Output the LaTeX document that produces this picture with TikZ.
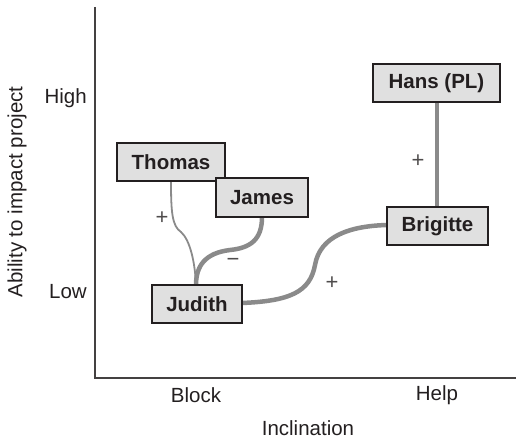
\documentclass[tikz,border=0pt]{standalone}
\usepackage{fontspec}
\setmainfont{Liberation Sans}
\definecolor{ink}{HTML}{231F20}
\definecolor{boxfill}{HTML}{E0E0E0}
\definecolor{linkgray}{HTML}{8A8A8A}
\begin{document}
\begin{tikzpicture}[x=1pt,y=-1pt,
  person/.style={draw=ink, line width=1.2pt, fill=boxfill, text=ink,
    font=\fontsize{20.5}{23}\selectfont\bfseries, inner sep=0pt, align=center},
  lbl/.style={text=ink, font=\fontsize{20.5}{23}\selectfont, inner sep=0pt},
  sign/.style={text=ink!80, font=\fontsize{22}{24}\selectfont, inner sep=0pt},
  thicklink/.style={draw=linkgray, line width=4.5pt},
  thinlink/.style={draw=linkgray, line width=1.8pt},
  axis/.style={draw=ink!85, line width=1.2pt}
]
\useasboundingbox (0,0) rectangle (516,441);
% axes
\draw[axis] (95,7) -- (95,378) -- (516,378);
% axis labels
\node[lbl, anchor=east] (high) at (87,98) {High};
\node[lbl, anchor=east] (low) at (87,292) {Low};
\node[lbl, rotate=90] (ytitle) at (17,192) {Ability to impact project};
\node[lbl] (block) at (196,395) {Block};
\node[lbl] (help) at (437,395) {Help};
\node[lbl] (xtitle) at (308,428) {Inclination};
% connectors (drawn first, under boxes)
\coordinate (thomasb) at (171,181);
\coordinate (jamesb) at (262,217);
\coordinate (juditht) at (196,285);
\coordinate (judithe) at (242,303);
\coordinate (brigittew) at (387,225);
\coordinate (hansb) at (437,102);
\coordinate (brigitten) at (437,207);
\draw[thinlink] (thomasb) .. controls (171,212) and (172,226) .. (181,232)
  .. controls (190,240) and (195,262) .. (juditht);
\draw[thicklink] (jamesb) .. controls (262,240) and (250,248) .. (230,250)
  .. controls (205,253) and (196,266) .. (juditht);
\draw[thicklink] (judithe) .. controls (290,301) and (310,292) .. (315,265)
  .. controls (320,236) and (350,226) .. (brigittew);
\draw[thicklink] (hansb) -- (brigitten);
% boxes
\node[person, minimum width=108pt, minimum height=38pt] (thomas) at (171,162) {Thomas};
\node[person, minimum width=92pt, minimum height=39pt] (james) at (262,197.5) {James};
\node[person, minimum width=90pt, minimum height=38pt] (judith) at (197,304) {Judith};
\node[person, minimum width=127pt, minimum height=38pt] (hans) at (436.5,83) {Hans (PL)};
\node[person, minimum width=101pt, minimum height=38pt] (brigitte) at (437.5,226) {Brigitte};
% signs
\node[sign] (s1) at (162,218) {+};
\node[sign] (s2) at (233,262) {−};
\node[sign] (s3) at (332,283) {+};
\node[sign] (s4) at (418,161) {+};
\end{tikzpicture}
\end{document}
